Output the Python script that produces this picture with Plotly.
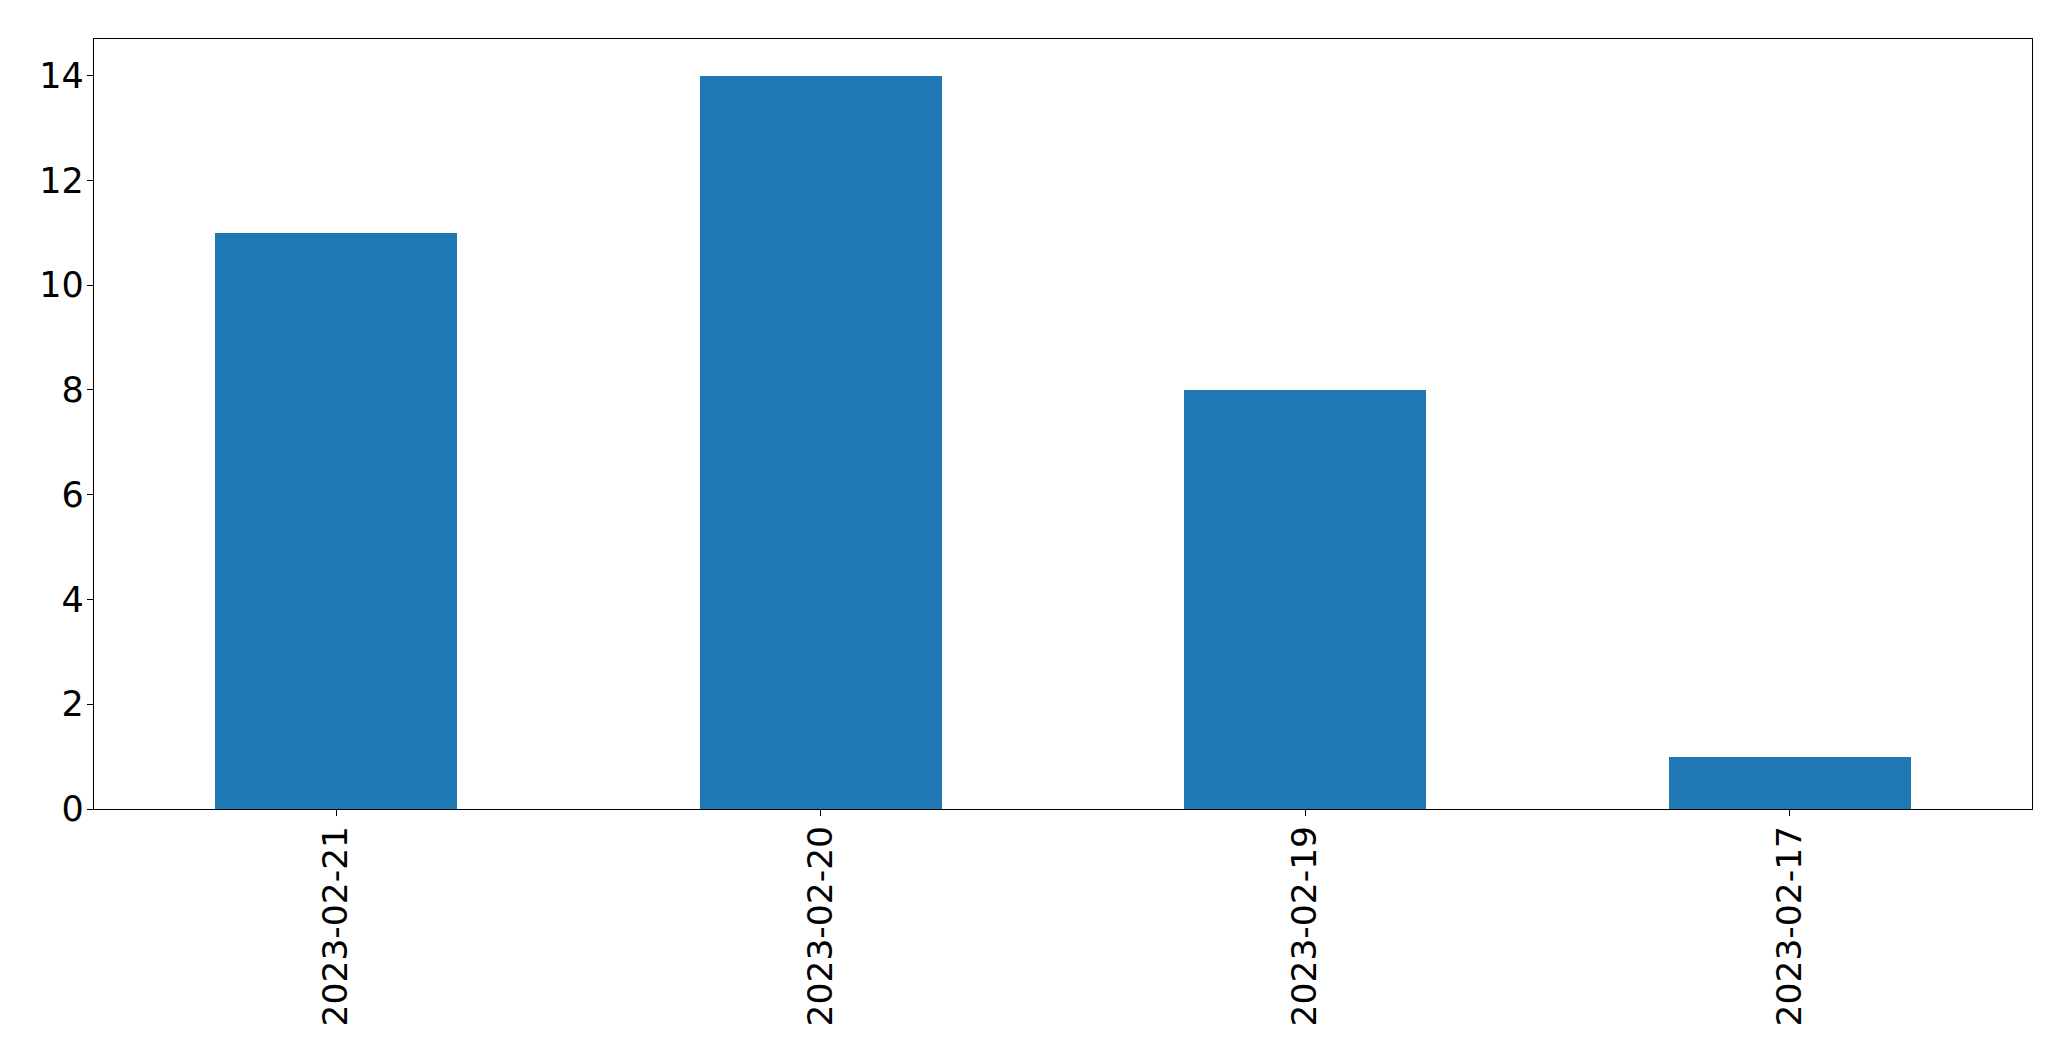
import plotly.graph_objects as go

categories = ["2023-02-21", "2023-02-20", "2023-02-19", "2023-02-17"]
values = [11, 14, 8, 1]
y_ticks = [0, 2, 4, 6, 8, 10, 12, 14]

fig = go.Figure()
fig.add_trace(go.Bar(
    x=list(range(len(categories))),
    y=values,
    width=0.5,
    marker=dict(color="#1f77b4", line=dict(width=0)),
))

fig.update_layout(
    width=2055, height=1045,
    margin=dict(l=86, r=31, t=31, b=244, pad=0),
    paper_bgcolor="white", plot_bgcolor="white",
    font=dict(family="DejaVu Sans", size=35, color="black"),
    showlegend=False,
    bargap=0,
)
fig.update_xaxes(
    range=[-0.5, len(categories) - 0.5],
    tickmode="array",
    tickvals=list(range(len(categories))),
    ticktext=categories,
    tickangle=-90,
    showline=True, linecolor="black", linewidth=1.3, mirror=True,
    ticks="outside", ticklen=6, tickwidth=1.3, tickcolor="black",
    showgrid=False, zeroline=False,
    tickfont=dict(size=34.5),
    ticklabelstandoff=-4,
)
fig.update_yaxes(
    range=[0, 14.7],
    tickmode="array",
    tickvals=y_ticks,
    ticktext=[str(v) for v in y_ticks],
    showline=True, linecolor="black", linewidth=1.3, mirror=True,
    ticks="outside", ticklen=6, tickwidth=1.3, tickcolor="black",
    showgrid=False, zeroline=False,
    tickfont=dict(size=35),
    ticklabelstandoff=-4,
)

fig.write_html("out.html")
